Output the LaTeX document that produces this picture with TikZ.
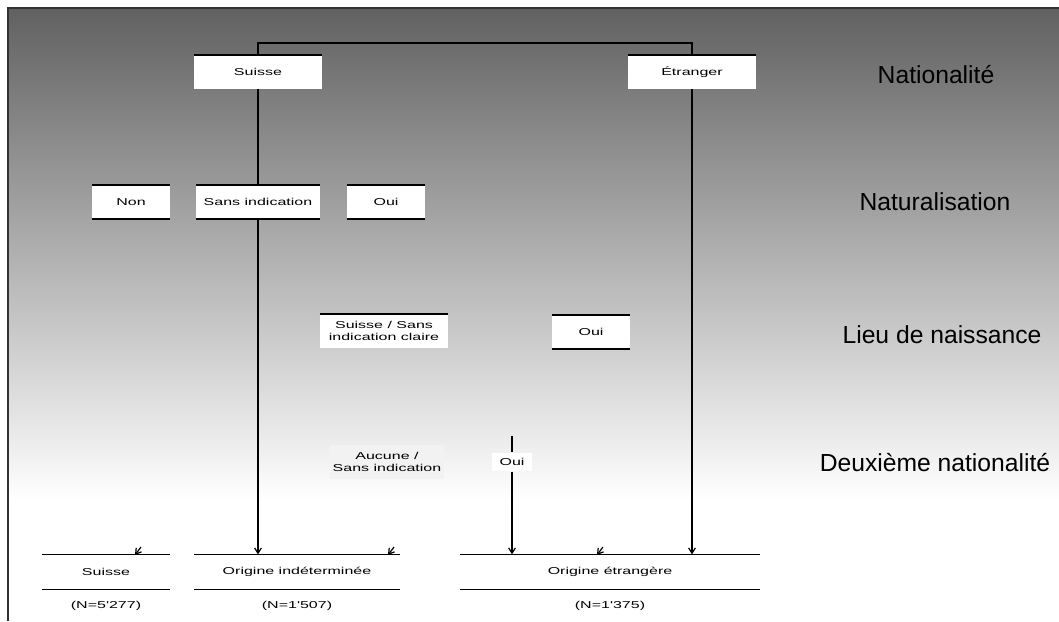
\documentclass[tikz,border=0pt]{standalone}
\usepackage{fontspec}
\setmainfont{Liberation Sans}
\newfontfamily\widefont[FakeStretch=1.6]{Liberation Sans}
\usetikzlibrary{arrows.meta}

\begin{document}
\begin{tikzpicture}[x=0.75pt, y=-0.75pt,
		rule/.style={draw=black, line width=1.3pt},
		link/.style={draw=black, line width=0.9pt},
		tip/.style={-{Straight Barb[length=4pt,width=5pt]}},
		catbox/.style={fill=white, inner sep=1pt, align=center, font=\widefont\fontsize{7.5}{8.5}\selectfont, minimum height=25pt},
		topbar/.style={append after command={(\tikzlastnode.north west) edge[rule] (\tikzlastnode.north east)}},
		botbar/.style={append after command={(\tikzlastnode.south west) edge[rule] (\tikzlastnode.south east)}},
		level/.style={font=\fontsize{18.5}{21}\selectfont},
		count/.style={font=\widefont\fontsize{7.5}{8.5}\selectfont}]
	\useasboundingbox (0,0) rectangle (1059,621);
	% background
	\shade[top color=black!62, bottom color=white] (8,8) rectangle (1059,500);
	\fill[white] (8,500) rectangle (1059,621);
	\draw[black!80, line width=1.4pt] (8,621) -- (8,8) -- (1059,8);

	% levels
	\node[level] (lvnat) at (936,75) {Nationalité};
	\node[level] (lvnatur) at (935,202) {Naturalisation};
	\node[level] (lvlieu) at (942,335) {Lieu de naissance};
	\node[level] (lvdeux) at (935,463) {Deuxième nationalité};

	% nationalite
	\node[catbox, topbar, minimum width=96pt] (suisse) at (258,72) {Suisse};
	\node[catbox, topbar, minimum width=96pt] (etranger) at (692,72) {Étranger};

	% naturalisation
	\node[catbox, topbar, botbar, minimum width=58pt] (non) at (131,202) {Non};
	\node[catbox, topbar, botbar, minimum width=93pt] (sansind) at (258,202) {Sans indication};
	\node[catbox, topbar, botbar, minimum width=58pt] (oui) at (386,202) {Oui};

	% lieu de naissance
	\node[catbox, topbar, minimum width=96pt] (lieusuisse) at (384,331) {Suisse / Sans\\indication claire};
	\node[catbox, topbar, botbar, minimum width=58pt] (lieuoui) at (591,332) {Oui};

	% deuxieme nationalite
	\node[catbox, fill=white!90!gray, minimum width=86pt] (aucune) at (387,462) {Aucune /\\Sans indication};
	\node[catbox, minimum width=30pt, minimum height=14pt] (deuxoui) at (512,462) {Oui};

	% origine
	\node[catbox, topbar, botbar, minimum width=96pt, minimum height=26pt] (suisseb) at (106,572) {Suisse};
	\node[catbox, topbar, botbar, minimum width=154pt, minimum height=26pt] (origind) at (297,572) {Origine indéterminée};
	\node[catbox, topbar, botbar, minimum width=225pt, minimum height=26pt] (origetr) at (610,572) {Origine étrangère};
	\node[count] (nsuisse) at (106,606) {(N=5'277)};
	\node[count] (norigind) at (297,606) {(N=1'507)};
	\node[count] (norigetr) at (610,606) {(N=1'375)};

	% connectors
	\draw[link] (suisse.north) -- ++(0,-12) -| (etranger.north);
	\draw[link] (suisse.south) -- (sansind.north);
	\draw[link, tip] (sansind.south) -- (origind.north -| sansind.south);
	\draw[link, tip] (etranger.south) -- (origetr.north -| etranger.south);
	\coordinate (deuxtop) at (512,436);
	\draw[link] (deuxtop) -- (deuxoui.north);
	\draw[link, tip] (deuxoui.south) -- (origetr.north -| deuxoui.south);

	% arrow ends
	\coordinate (m1) at (141,547);
	\coordinate (t1) at (135,555);
	\coordinate (m2) at (394,547);
	\coordinate (t2) at (388,555);
	\coordinate (m3) at (603,547);
	\coordinate (t3) at (597,555);
	\draw[link, tip] (m1) -- (t1);
	\draw[link, tip] (m2) -- (t2);
	\draw[link, tip] (m3) -- (t3);
\end{tikzpicture}
\end{document}
